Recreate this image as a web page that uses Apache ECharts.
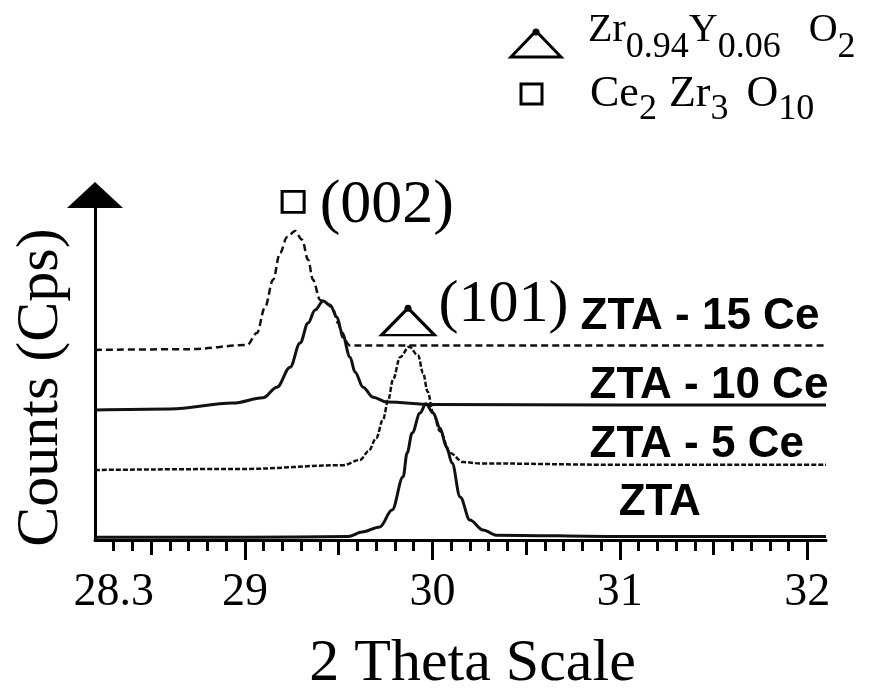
<!DOCTYPE html>
<html><head><meta charset="utf-8">
<script src="https://cdn.jsdelivr.net/npm/echarts@6/dist/echarts.min.js"></script>
<style>html,body{margin:0;padding:0;background:#fff}#c{width:872px;height:700px}</style>
</head><body><div id="c"></div>
<script>
// ---- data (2 theta in degrees, counts in arbitrary stacked units) ----
const zta2Theta   = [28.2, 29.0, 29.55, 29.625, 29.72, 29.785, 29.844, 29.865, 29.892, 29.934, 29.965, 30.004, 30.041, 30.075, 30.105, 30.148, 30.2, 30.27, 30.34, 31.0, 32.1];
const ztaCounts   = [0.8, 0.8, 1.0, 2.3, 3.8, 8.7, 18.3, 25.2, 31.0, 36.8, 39.5, 36.8, 32.5, 27.0, 22.3, 12.5, 5.8, 2.9, 1.4, 1.0, 1.0];

const ce5_2Theta  = [28.2, 29.0, 29.523, 29.614, 29.66, 29.70, 29.737, 29.764, 29.79, 29.828, 29.876, 29.924, 29.95, 29.975, 30.004, 30.041, 30.094, 30.164, 30.254, 31.0, 32.1];
const ce5Counts   = [20.3, 20.6, 21.7, 23.2, 25.8, 29.5, 35.0, 40.5, 46.5, 53.0, 56.0, 53.5, 48.4, 43.0, 36.8, 31.5, 25.2, 22.6, 22.2, 21.8, 21.8];

const ce10_2Theta = [28.2, 28.6, 28.936, 29.096, 29.171, 29.241, 29.294, 29.337, 29.374, 29.417, 29.454, 29.491, 29.518, 29.561, 29.587, 29.63, 29.683, 29.758, 30.0, 31.0, 32.1];
const ce10Counts  = [37.7, 38.0, 39.7, 41.2, 44.3, 50.1, 57.1, 62.9, 66.7, 69.3, 68.1, 64.6, 60.0, 53.0, 48.7, 44.3, 41.4, 40.0, 39.3, 39.1, 39.1];

const ce15_2Theta = [28.2, 28.7, 29.011, 29.064, 29.107, 29.15, 29.187, 29.225, 29.267, 29.305, 29.337, 29.363, 29.401, 29.427, 29.465, 29.497, 29.523, 29.56, 29.7, 31.0, 32.1];
const ce15Counts  = [55.1, 55.3, 56.5, 60.0, 67.5, 75.4, 83.2, 87.8, 89.6, 87.0, 81.2, 75.4, 69.6, 68.7, 67.5, 62.9, 58.6, 56.4, 56.4, 56.4, 56.4];

const seriesNames = ['ZTA', 'ZTA - 5 Ce', 'ZTA - 10 Ce', 'ZTA - 15 Ce'];
const phaseRich   = ['{m|Zr}{s|0.94}{m|Y}{s|0.06}{o|O}{s|2}', '{m|Ce}{s|2}{z|Zr}{s|3}{o|O}{s|10}'];
const peakLabels  = ['(002)', '(101)'];
const tickLabels  = [28.3, 29, 30, 31, 32];
const majorTicks  = [29, 30, 31, 32];
const halfTicks   = [28.5, 29.5, 30.5, 31.5];
const minorTicks  = [];
for (let i = 283; i <= 320; i++) minorTicks.push(i / 10);

const pairs = (xs, ys) => xs.map((x, i) => [x, ys[i]]);

const serif = 'Liberation Serif';
const sans = 'Liberation Sans';
const black = '#111';

const curveLabel = (name, coord) => ({
  coord: coord, symbol: 'circle', symbolSize: 1,
  itemStyle: { color: 'rgba(0,0,0,0)' },
  label: { show: true, formatter: name, position: 'right', distance: 0,
           fontFamily: sans, fontWeight: 'bold', fontSize: 44, color: '#000' }
});

const richLine1 = {
  m: { fontFamily: serif, fontSize: 40, lineHeight: 40, verticalAlign: 'top', fill: '#000' },
  o: { fontFamily: serif, fontSize: 40, lineHeight: 40, verticalAlign: 'top', fill: '#000', padding: [0, 0, 0, 28] },
  s: { fontFamily: serif, fontSize: 36, lineHeight: 36, verticalAlign: 'top', fill: '#000', padding: [20, 0, 0, 0] }
};
const richLine2 = {
  m: { fontFamily: serif, fontSize: 44, lineHeight: 44, verticalAlign: 'top', fill: '#000' },
  z: { fontFamily: serif, fontSize: 44, lineHeight: 44, verticalAlign: 'top', fill: '#000', padding: [0, 0, 0, 12] },
  o: { fontFamily: serif, fontSize: 44, lineHeight: 44, verticalAlign: 'top', fill: '#000', padding: [0, 0, 0, 18] },
  s: { fontFamily: serif, fontSize: 36, lineHeight: 36, verticalAlign: 'top', fill: '#000', padding: [20, 0, 0, 0] }
};

const baseX = {
  type: 'value', min: 28.2, max: 32.1, position: 'bottom', gridIndex: 0,
  splitLine: { show: false },
  axisLine: { show: false, onZero: false },
  axisLabel: { show: false },
  axisTick: { show: true, lineStyle: { color: '#000', width: 3 } }
};

const chart = echarts.init(document.getElementById('c'), null, { renderer: 'canvas' });
chart.setOption({
  animation: false,
  backgroundColor: '#fff',
  grid: { left: 95, right: 46, top: 195, bottom: 160 },
  graphic: [
    { type: 'polygon', shape: { points: [[536, 31], [561, 57], [511, 57]] },
      style: { fill: '#fff', stroke: '#000', lineWidth: 3 } },
    { type: 'circle', shape: { cx: 536, cy: 32, r: 3.5 }, style: { fill: '#000' } },
    { type: 'text', x: 588, y: 10, style: { text: phaseRich[0], rich: richLine1, verticalAlign: 'top', align: 'left' } },
    { type: 'rect', shape: { x: 521, y: 84, width: 21, height: 20 },
      style: { fill: '#fff', stroke: '#000', lineWidth: 3 } },
    { type: 'text', x: 590, y: 72, style: { text: phaseRich[1], rich: richLine2, verticalAlign: 'top', align: 'left' } }
  ],
  xAxis: [
    Object.assign({}, baseX, {
      axisLine: { show: true, onZero: false, lineStyle: { color: '#000', width: 3 } },
      axisTick: { show: true, length: 11, customValues: minorTicks, lineStyle: { color: '#000', width: 3 } },
      axisLabel: { show: true, customValues: tickLabels, margin: 30, fontFamily: serif, fontSize: 46, color: '#000' },
      name: '2 Theta Scale', nameLocation: 'middle', nameGap: 94,
      nameTextStyle: { fontFamily: serif, fontSize: 60, color: '#000', padding: [0, 0, 0, 24] }
    }),
    Object.assign({}, baseX, {
      axisTick: { show: true, length: 15, customValues: halfTicks, lineStyle: { color: '#000', width: 3 } }
    }),
    Object.assign({}, baseX, {
      axisTick: { show: true, length: 20, customValues: majorTicks, lineStyle: { color: '#000', width: 3 } }
    })
  ],
  yAxis: {
    type: 'value', min: 0, max: 100,
    splitLine: { show: false },
    axisTick: { show: false },
    axisLabel: { show: false },
    axisLine: { show: true, onZero: false, symbol: ['none', 'triangle'], symbolSize: [56, 26],
                lineStyle: { color: '#000', width: 3 } },
    name: 'Counts (Cps)', nameLocation: 'middle', nameGap: 24, nameRotate: 90,
    nameTextStyle: { fontFamily: serif, fontSize: 60, color: '#000', padding: [0, 40, 0, 0] }
  },
  series: [
    {
      name: seriesNames[0], type: 'line', xAxisIndex: 0, showSymbol: false, smooth: 0.35, smoothMonotone: 'x',
      data: pairs(zta2Theta, ztaCounts),
      lineStyle: { color: black, width: 3 },
      markPoint: { animation: false, data: [curveLabel(seriesNames[0], [30.991, 10.7])] }
    },
    {
      name: seriesNames[1], type: 'line', xAxisIndex: 0, showSymbol: false, smooth: 0.35, smoothMonotone: 'x',
      data: pairs(ce5_2Theta, ce5Counts),
      lineStyle: { color: black, width: 2.5, type: [5, 2] },
      markPoint: { animation: false, data: [
        curveLabel(seriesNames[1], [30.836, 27.5]),
        { coord: [29.870, 63.3], symbol: 'triangle', symbolSize: [53, 27],
          itemStyle: { color: '#fff', borderColor: '#000', borderWidth: 3 },
          label: { show: true, formatter: peakLabels[1], position: 'right', distance: 2, offset: [0, -16],
                   fontFamily: serif, fontSize: 60, color: '#000' } },
        { coord: [29.870, 67.2], symbol: 'circle', symbolSize: 7, itemStyle: { color: '#000' }, label: { show: false } }
      ] }
    },
    {
      name: seriesNames[2], type: 'line', xAxisIndex: 0, showSymbol: false, smooth: 0.35, smoothMonotone: 'x',
      data: pairs(ce10_2Theta, ce10Counts),
      lineStyle: { color: black, width: 3 },
      markPoint: { animation: false, data: [curveLabel(seriesNames[2], [30.836, 44.6])] }
    },
    {
      name: seriesNames[3], type: 'line', xAxisIndex: 0, showSymbol: false, smooth: 0.35, smoothMonotone: 'x',
      data: pairs(ce15_2Theta, ce15Counts),
      lineStyle: { color: black, width: 2.5, type: [7, 4] },
      markPoint: { animation: false, data: [
        curveLabel(seriesNames[3], [30.788, 64.6]),
        { coord: [29.257, 98.0], symbol: 'rect', symbolSize: [22, 21],
          itemStyle: { color: '#fff', borderColor: '#000', borderWidth: 3 },
          label: { show: true, formatter: peakLabels[0], position: 'right', distance: 14, offset: [0, 4],
                   fontFamily: serif, fontSize: 62, color: '#000' } }
      ] }
    }
  ]
});
</script></body></html>
